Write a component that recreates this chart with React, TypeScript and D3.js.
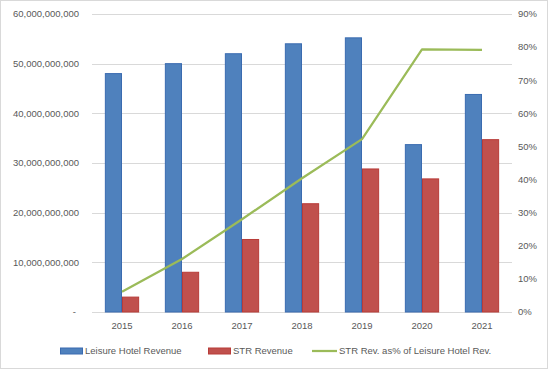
import * as d3 from "d3";
import { useEffect, useRef } from "react";

const years = ["2015", "2016", "2017", "2018", "2019", "2020", "2021"];
const leisureRevenue = [48.0e9, 50.0e9, 52.0e9, 54.0e9, 55.2e9, 33.7e9, 43.8e9];
const strRevenue = [3.0e9, 8.0e9, 14.6e9, 21.8e9, 28.8e9, 26.8e9, 34.7e9];
const strShare = [0.061, 0.16, 0.28, 0.404, 0.522, 0.793, 0.792];
const leftTicks = [0, 10e9, 20e9, 30e9, 40e9, 50e9, 60e9];
const rightTicks = [0, 0.1, 0.2, 0.3, 0.4, 0.5, 0.6, 0.7, 0.8, 0.9];
const legendItems = [
  { label: "Leisure Hotel Revenue", kind: "bar", color: "#4F81BD", stroke: "#3A6BB0" },
  { label: "STR Revenue", kind: "bar", color: "#C0504D", stroke: "#B83C39" },
  { label: "STR Rev. as% of Leisure Hotel Rev.", kind: "line", color: "#9BBB59", stroke: "#9BBB59" },
];

const W = 548, H = 369;
const plot = { left: 92, right: 512, top: 14, bottom: 312 };
const font = "'Liberation Sans', Arial, sans-serif";
const textColor = "#595959";

export default function App() {
  const ref = useRef<SVGSVGElement>(null);

  useEffect(() => {
    const svg = d3.select(ref.current);
    svg.selectAll("*").remove();

    svg.append("rect")
      .attr("x", 0.5).attr("y", 0.5)
      .attr("width", W - 1).attr("height", H - 1)
      .attr("fill", "#fff").attr("stroke", "#D9D9D9");

    const x = d3.scaleBand().domain(years).range([plot.left, plot.right]);
    const y = d3.scaleLinear().domain([0, 60e9]).range([plot.bottom, plot.top]);
    const y2 = d3.scaleLinear().domain([0, 0.9]).range([plot.bottom, plot.top]);

    // gridlines
    svg.append("g").selectAll("line").data(leftTicks).enter().append("line")
      .attr("x1", plot.left).attr("x2", plot.right)
      .attr("y1", (d) => Math.round(y(d)) + 0.5).attr("y2", (d) => Math.round(y(d)) + 0.5)
      .attr("stroke", "#D9D9D9").attr("stroke-width", 1);

    // left axis labels
    const fmt = d3.format(",");
    svg.append("g").selectAll("text").data(leftTicks).enter().append("text")
      .attr("x", (d) => (d === 0 ? 76 : 79))
      .attr("y", (d) => y(d))
      .attr("dy", "0.35em")
      .attr("text-anchor", "end")
      .attr("font-family", font).attr("font-size", 9.5).attr("fill", textColor)
      .text((d) => (d === 0 ? "-" : fmt(d)));

    // right axis labels
    svg.append("g").selectAll("text").data(rightTicks).enter().append("text")
      .attr("x", 518)
      .attr("y", (d) => y2(d))
      .attr("dy", "0.35em")
      .attr("text-anchor", "start")
      .attr("font-family", font).attr("font-size", 9.5).attr("fill", textColor)
      .text((d) => d3.format(".0%")(d));

    // x labels
    svg.append("g").selectAll("text").data(years).enter().append("text")
      .attr("x", (d) => (x(d) as number) + x.bandwidth() / 2)
      .attr("y", 326)
      .attr("dy", "0.35em")
      .attr("text-anchor", "middle")
      .attr("font-family", font).attr("font-size", 9.5).attr("fill", textColor)
      .text((d) => d);

    // bars
    const barW = x.bandwidth() / 3.5;
    const series = [leisureRevenue, strRevenue];
    series.forEach((vals, si) => {
      const item = legendItems[si];
      svg.append("g").selectAll("rect").data(vals).enter().append("rect")
        .attr("x", (d, i) => (x(years[i]) as number) + x.bandwidth() / 2 - barW + si * barW + 0.5)
        .attr("y", (d) => y(d))
        .attr("width", barW - 1)
        .attr("height", (d) => plot.bottom - y(d))
        .attr("fill", item.color)
        .attr("stroke", item.stroke).attr("stroke-width", 1);
    });

    // line
    const line = d3.line<number>()
      .x((d, i) => (x(years[i]) as number) + x.bandwidth() / 2)
      .y((d) => y2(d));
    svg.append("path")
      .datum(strShare)
      .attr("d", line)
      .attr("fill", "none")
      .attr("stroke", legendItems[2].color)
      .attr("stroke-width", 2.25)
      .attr("stroke-linejoin", "round");

    // legend
    const legendX = [60, 208, 312];
    const ly = 351;
    legendItems.forEach((item, i) => {
      const g = svg.append("g").attr("transform", `translate(${legendX[i]},${ly})`);
      if (item.kind === "bar") {
        g.append("rect").attr("x", 0.5).attr("y", -3).attr("width", 22).attr("height", 6)
          .attr("fill", item.color).attr("stroke", item.stroke);
      } else {
        g.append("line").attr("x1", 0).attr("x2", 25).attr("y1", 0).attr("y2", 0)
          .attr("stroke", item.color).attr("stroke-width", 2.25);
      }
      g.append("text")
        .attr("x", item.kind === "bar" ? 25 : 27)
        .attr("y", 0).attr("dy", "0.35em")
        .attr("font-family", font).attr("font-size", 9.5).attr("fill", textColor)
        .text(item.label);
    });
  }, []);

  return (
    <svg
      ref={ref}
      width={W}
      height={H}
      style={{ position: "absolute", left: 0, top: 0, display: "block" }}
    />
  );
}
